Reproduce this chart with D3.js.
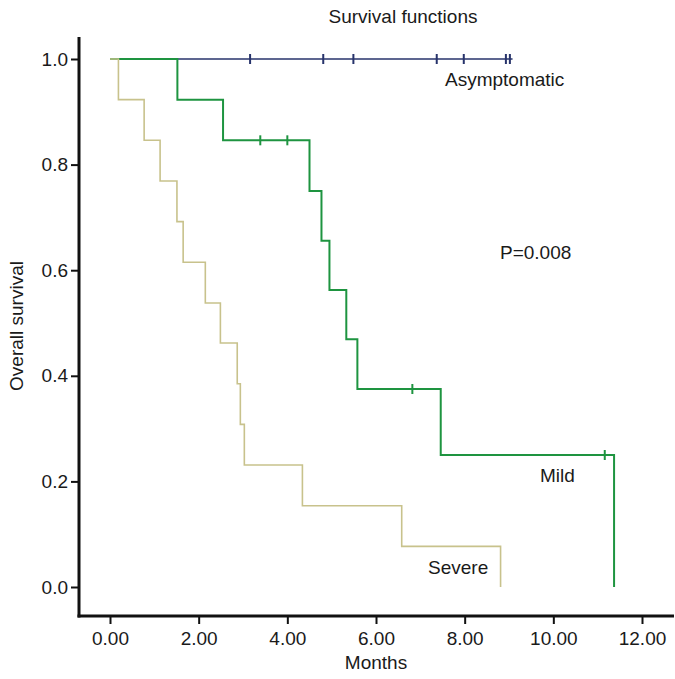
<!DOCTYPE html>
<html>
<head>
<meta charset="utf-8">
<script src="https://cdn.jsdelivr.net/npm/d3@7"></script>
<style>
  html, body { margin: 0; padding: 0; background: #fff; }
  svg { display: block; }
  text { font-family: "Liberation Sans", Arial, Helvetica, sans-serif; fill: #1a1a1a; }
</style>
</head>
<body>
<svg id="chart" width="675" height="679"></svg>
<script>
// ---------- DATA ----------
const xTicks = [0, 2, 4, 6, 8, 10, 12];
const yTicks = [0, 0.2, 0.4, 0.6, 0.8, 1.0];

const severeTimes  = [0, 0.19, 0.77, 1.13, 1.51, 1.65, 2.15, 2.49, 2.87, 2.94, 3.03, 4.34, 6.58, 8.81];
const severeSurv   = [1, 0.923, 0.846, 0.769, 0.692, 0.615, 0.538, 0.462, 0.385, 0.308, 0.231, 0.154, 0.077, 0];
const severeCens   = [];

const mildTimes    = [0, 1.52, 2.55, 4.50, 4.77, 4.95, 5.33, 5.58, 7.46, 11.37];
const mildSurv     = [1, 0.923, 0.846, 0.75, 0.656, 0.5625, 0.469, 0.375, 0.25, 0];
const mildCensT    = [3.39, 4.00, 6.82, 11.16];
const mildCensS    = [0.846, 0.846, 0.375, 0.25];

const asymTimes    = [0, 9.08];
const asymSurv     = [1, 1];
const asymCensT    = [3.16, 4.81, 5.49, 7.37, 7.98, 8.93, 9.02];
const asymCensS    = [1, 1, 1, 1, 1, 1, 1];

// ---------- LAYOUT ----------
const FS = "19px";
const svg = d3.select("#chart");
const x = d3.scaleLinear().domain([0, 12]).range([110, 642]);
const y = d3.scaleLinear().domain([0, 1]).range([587, 59]);
const axisLeftX = 79, axisBottomY = 616, axisTopY = 37, axisRightX = 674;

// axes
const yAxis = d3.axisLeft(y).tickValues(yTicks).tickFormat(d3.format(".1f")).tickSize(8).tickPadding(3);
const gy = svg.append("g").attr("transform", `translate(${axisLeftX},0)`).call(yAxis);
gy.select(".domain").remove();
gy.selectAll(".tick line").attr("stroke", "#111").attr("stroke-width", 2);
gy.selectAll(".tick text").style("font-size", FS).attr("fill", "#1a1a1a");

const xAxis = d3.axisBottom(x).tickValues(xTicks).tickFormat(d3.format(".2f")).tickSize(8).tickPadding(8);
const gx = svg.append("g").attr("transform", `translate(0,${axisBottomY})`).call(xAxis);
gx.select(".domain").remove();
gx.selectAll(".tick line").attr("stroke", "#111").attr("stroke-width", 2);
gx.selectAll(".tick text").style("font-size", FS).attr("fill", "#1a1a1a");

svg.append("line").attr("x1", axisLeftX).attr("x2", axisLeftX)
  .attr("y1", axisTopY).attr("y2", axisBottomY + 1.5)
  .attr("stroke", "#111").attr("stroke-width", 3);
svg.append("line").attr("x1", axisLeftX - 1.5).attr("x2", axisRightX)
  .attr("y1", axisBottomY).attr("y2", axisBottomY)
  .attr("stroke", "#111").attr("stroke-width", 3);

// curves
const line = d3.line().x(d => x(d[0])).y(d => y(d[1])).curve(d3.curveStepAfter);
function drawGroup(times, surv, censT, censS, color, width) {
  const pts = times.map((t, i) => [t, surv[i]]);
  svg.append("path").datum(pts).attr("d", line)
    .attr("fill", "none").attr("stroke", color).attr("stroke-width", width);
  svg.append("g").selectAll("line").data(censT.map((t, i) => [t, censS[i]])).join("line")
    .attr("x1", d => x(d[0])).attr("x2", d => x(d[0]))
    .attr("y1", d => y(d[1]) - 5).attr("y2", d => y(d[1]) + 5)
    .attr("stroke", color).attr("stroke-width", 2);
}
drawGroup(asymTimes, asymSurv, asymCensT, asymCensS, "#27336b", 1.6);
drawGroup(mildTimes, mildSurv, mildCensT, mildCensS, "#1e9440", 2);
drawGroup(severeTimes, severeSurv, severeCens, [], "#c8c28c", 1.6);

// texts
svg.append("text").attr("x", 403).attr("y", 23).attr("text-anchor", "middle")
  .style("font-size", FS).text("Survival functions");
svg.append("text").attr("x", 376).attr("y", 669).attr("text-anchor", "middle")
  .style("font-size", FS).text("Months");
svg.append("text").attr("transform", "translate(23,326) rotate(-90)").attr("text-anchor", "middle")
  .style("font-size", FS).text("Overall survival");
svg.append("text").attr("x", 445).attr("y", 86).style("font-size", FS).text("Asymptomatic");
svg.append("text").attr("x", 500).attr("y", 259).style("font-size", FS).text("P=0.008");
svg.append("text").attr("x", 540).attr("y", 482).style("font-size", FS).text("Mild");
svg.append("text").attr("x", 428).attr("y", 574).style("font-size", FS).text("Severe");
</script>
</body>
</html>
